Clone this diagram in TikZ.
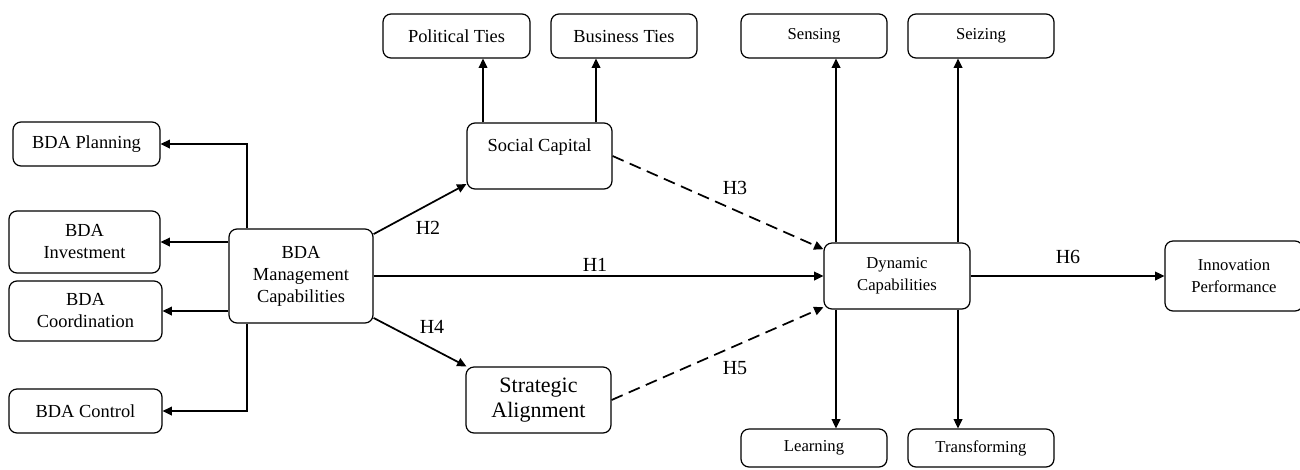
\documentclass[tikz,border=0pt]{standalone}
\usepackage{fontspec}
\setmainfont{Liberation Serif}
\usetikzlibrary{arrows.meta}
\tikzset{
  box/.style={draw, line width=0.9pt, rounded corners=6pt, align=center, inner sep=1pt},
  fa/.style={font=\fontsize{13.8}{16.5}\selectfont},
  fb/.style={font=\fontsize{12.5}{16.5}\selectfont},
  hl/.style={font=\fontsize{15}{17}\selectfont, inner sep=0pt},
  arr/.style={line width=1.3pt, -{Triangle[length=7pt,width=6.5pt]}},
  darr/.style={arr, dash pattern=on 9pt off 5pt},
  ln/.style={line width=1.3pt}
}
\begin{document}
\begin{tikzpicture}[x=0.75pt,y=-0.75pt]
\useasboundingbox (0,0) rectangle (1300,469);
% left boxes
\node[box,fa,minimum width=110.25pt,minimum height=33pt] (plan) at (86.5,144) {BDA Planning};
\node[box,fa,minimum width=113.25pt,minimum height=46.5pt] (inv) at (84.5,242) {BDA\\Investment};
\node[box,fa,minimum width=114.75pt,minimum height=45pt] (coord) at (85.5,311) {BDA\\Coordination};
\node[box,fa,minimum width=114.75pt,minimum height=33pt] (ctrl) at (85.5,411) {BDA Control};
\node[box,fa,minimum width=108pt,minimum height=70.5pt] (mgmt) at (301,276) {BDA\\Management\\Capabilities};
% middle
\node[box,fa,minimum width=110.25pt,minimum height=33pt] (pol) at (456.5,36) {Political Ties};
\node[box,fa,minimum width=109.5pt,minimum height=33pt] (bus) at (624,36) {Business Ties};
\node[box,fa,minimum width=108.75pt,minimum height=49.5pt] (soc) at (539.5,156) {Social Capital\\ ~};
\node[box,font=\fontsize{16.5}{19}\selectfont,minimum width=108.75pt,minimum height=49.5pt] (strat) at (538.5,400) {Strategic\\Alignment};
% right
\node[box,fb,minimum width=109.5pt,minimum height=33pt] (sens) at (814,36) {Sensing};
\node[box,fb,minimum width=109.5pt,minimum height=33pt] (seiz) at (981,36) {Seizing};
\node[box,fb,minimum width=109.5pt,minimum height=49.5pt] (dyn) at (897,276) {Dynamic\\Capabilities};
\node[box,fb,minimum width=103.5pt,minimum height=52.5pt] (innov) at (1234,276) {Innovation\\Performance};
\node[box,fb,minimum width=109.5pt,minimum height=28.5pt] (learn) at (814,448) {Learning};
\node[box,fb,minimum width=109.5pt,minimum height=28.5pt] (trans) at (981,448) {Transforming};
% helper coordinates
\coordinate (jx) at (247,0);
\coordinate (px) at (483,0);
\coordinate (bx) at (596,0);
\coordinate (lx) at (836,0);
\coordinate (rx) at (958,0);
% connectors left
\draw[arr] (mgmt.north -| jx) |- (plan.east);
\draw[arr] (mgmt.west |- inv.east) -- (inv.east);
\draw[arr] (mgmt.west |- coord.east) -- (coord.east);
\draw[arr] (mgmt.south -| jx) |- (ctrl.east);
% social capital
\draw[arr] (soc.north -| px) -- (pol.south -| px);
\draw[arr] (soc.north -| bx) -- (bus.south -| bx);
% hypotheses
\draw[arr] (mgmt.30) -- (soc.201);
\draw[arr] (mgmt.east) -- (dyn.west);
\draw[arr] (mgmt.-30) -- (strat.155);
\draw[darr] (soc.east) -- (dyn.160);
\draw[darr] (strat.east) -- (dyn.203);
\draw[arr] (dyn.east) -- (innov.west);
% dynamic capabilities
\draw[arr] (dyn.north -| lx) -- (sens.south -| lx);
\draw[arr] (dyn.north -| rx) -- (seiz.south -| rx);
\draw[arr] (dyn.south -| lx) -- (learn.north -| lx);
\draw[arr] (dyn.south -| rx) -- (trans.north -| rx);
% labels
\node[hl] (h1) at (595,265) {H1};
\node[hl] (h2) at (428,228) {H2};
\node[hl] (h3) at (735,188) {H3};
\node[hl] (h4) at (432,327) {H4};
\node[hl] (h5) at (735,368) {H5};
\node[hl] (h6) at (1068,257) {H6};
\end{tikzpicture}
\end{document}
